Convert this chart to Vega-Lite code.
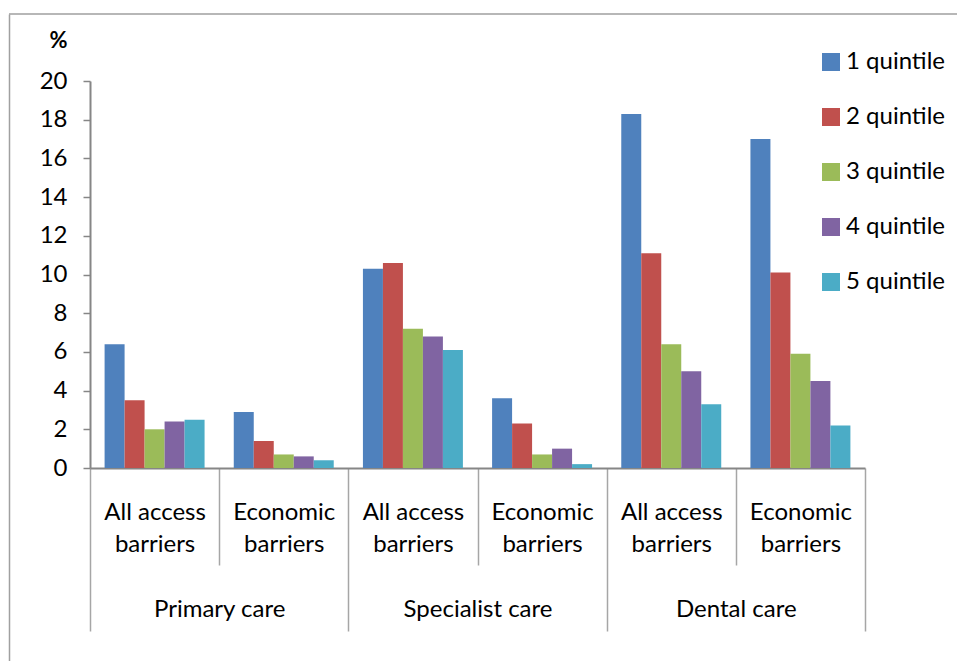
{
  "$schema": "https://vega.github.io/schema/vega-lite/v6.json",
  "width": 948,
  "height": 647,
  "autosize": {"type": "none"},
  "padding": {"left": 9, "top": 14, "right": 0, "bottom": 0},
  "background": "white",
  "config": {
    "font": "Lato",
    "view": {"stroke": "#a0a0a0", "strokeWidth": 1.5, "strokeDash": [948, 4000]},
    "axis": {"labelColor": "#000000", "labelFontSize": 24, "titleColor": "#000000"},
    "legend": {"labelColor": "#000000", "labelFontSize": 24}
  },
  "data": {
    "values": [
      {"care": "Primary care", "barrier": "All access barriers", "group": "Primary care / All access barriers", "quintile": "1 quintile", "value": 6.4},
      {"care": "Primary care", "barrier": "All access barriers", "group": "Primary care / All access barriers", "quintile": "2 quintile", "value": 3.5},
      {"care": "Primary care", "barrier": "All access barriers", "group": "Primary care / All access barriers", "quintile": "3 quintile", "value": 2.0},
      {"care": "Primary care", "barrier": "All access barriers", "group": "Primary care / All access barriers", "quintile": "4 quintile", "value": 2.4},
      {"care": "Primary care", "barrier": "All access barriers", "group": "Primary care / All access barriers", "quintile": "5 quintile", "value": 2.5},
      {"care": "Primary care", "barrier": "Economic barriers", "group": "Primary care / Economic barriers", "quintile": "1 quintile", "value": 2.9},
      {"care": "Primary care", "barrier": "Economic barriers", "group": "Primary care / Economic barriers", "quintile": "2 quintile", "value": 1.4},
      {"care": "Primary care", "barrier": "Economic barriers", "group": "Primary care / Economic barriers", "quintile": "3 quintile", "value": 0.7},
      {"care": "Primary care", "barrier": "Economic barriers", "group": "Primary care / Economic barriers", "quintile": "4 quintile", "value": 0.6},
      {"care": "Primary care", "barrier": "Economic barriers", "group": "Primary care / Economic barriers", "quintile": "5 quintile", "value": 0.4},
      {"care": "Specialist care", "barrier": "All access barriers", "group": "Specialist care / All access barriers", "quintile": "1 quintile", "value": 10.3},
      {"care": "Specialist care", "barrier": "All access barriers", "group": "Specialist care / All access barriers", "quintile": "2 quintile", "value": 10.6},
      {"care": "Specialist care", "barrier": "All access barriers", "group": "Specialist care / All access barriers", "quintile": "3 quintile", "value": 7.2},
      {"care": "Specialist care", "barrier": "All access barriers", "group": "Specialist care / All access barriers", "quintile": "4 quintile", "value": 6.8},
      {"care": "Specialist care", "barrier": "All access barriers", "group": "Specialist care / All access barriers", "quintile": "5 quintile", "value": 6.1},
      {"care": "Specialist care", "barrier": "Economic barriers", "group": "Specialist care / Economic barriers", "quintile": "1 quintile", "value": 3.6},
      {"care": "Specialist care", "barrier": "Economic barriers", "group": "Specialist care / Economic barriers", "quintile": "2 quintile", "value": 2.3},
      {"care": "Specialist care", "barrier": "Economic barriers", "group": "Specialist care / Economic barriers", "quintile": "3 quintile", "value": 0.7},
      {"care": "Specialist care", "barrier": "Economic barriers", "group": "Specialist care / Economic barriers", "quintile": "4 quintile", "value": 1.0},
      {"care": "Specialist care", "barrier": "Economic barriers", "group": "Specialist care / Economic barriers", "quintile": "5 quintile", "value": 0.2},
      {"care": "Dental care", "barrier": "All access barriers", "group": "Dental care / All access barriers", "quintile": "1 quintile", "value": 18.3},
      {"care": "Dental care", "barrier": "All access barriers", "group": "Dental care / All access barriers", "quintile": "2 quintile", "value": 11.1},
      {"care": "Dental care", "barrier": "All access barriers", "group": "Dental care / All access barriers", "quintile": "3 quintile", "value": 6.4},
      {"care": "Dental care", "barrier": "All access barriers", "group": "Dental care / All access barriers", "quintile": "4 quintile", "value": 5.0},
      {"care": "Dental care", "barrier": "All access barriers", "group": "Dental care / All access barriers", "quintile": "5 quintile", "value": 3.3},
      {"care": "Dental care", "barrier": "Economic barriers", "group": "Dental care / Economic barriers", "quintile": "1 quintile", "value": 17.0},
      {"care": "Dental care", "barrier": "Economic barriers", "group": "Dental care / Economic barriers", "quintile": "2 quintile", "value": 10.1},
      {"care": "Dental care", "barrier": "Economic barriers", "group": "Dental care / Economic barriers", "quintile": "3 quintile", "value": 5.9},
      {"care": "Dental care", "barrier": "Economic barriers", "group": "Dental care / Economic barriers", "quintile": "4 quintile", "value": 4.5},
      {"care": "Dental care", "barrier": "Economic barriers", "group": "Dental care / Economic barriers", "quintile": "5 quintile", "value": 2.2}
    ]
  },
  "layer": [
    {
      "mark": {"type": "bar"},
      "encoding": {
        "x": {
          "field": "group",
          "type": "nominal",
          "sort": null,
          "scale": {"range": [81, 856], "paddingInner": 0, "paddingOuter": 0},
          "axis": {
            "orient": "bottom",
            "offset": -193,
            "title": null,
            "labelAngle": 0,
            "tickBand": "extent",
            "domainColor": "#868686",
            "domainWidth": 2,
            "tickColor": "#a6a6a6",
            "tickWidth": 1.5,
            "tickSize": {"condition": {"test": "datum.extra || test(/Economic/, datum.value + '')", "value": 163}, "value": 97},
            "labelPadding": {"condition": {"test": "datum.extra || test(/Economic/, datum.value + '')", "value": -118.4}, "value": -52.4},
            "labelBaseline": "middle",
            "labelLineHeight": 31.5,
            "labelExpr": "datum.extra || datum.value == null ? '' : (test(/Economic/, datum.value) ? ['Economic', 'barriers'] : ['All access', 'barriers'])"
          }
        },
        "xOffset": {
          "field": "quintile",
          "type": "nominal",
          "scale": {"paddingInner": 0, "paddingOuter": 0.73}
        },
        "y": {
          "field": "value",
          "type": "quantitative",
          "scale": {"domain": [0, 20], "range": [454, 67], "nice": false},
          "axis": {
            "orient": "left",
            "offset": -81,
            "values": [0, 2, 4, 6, 8, 10, 12, 14, 16, 18, 20],
            "grid": false,
            "domainColor": "#868686",
            "domainWidth": 2,
            "tickColor": "#868686",
            "tickWidth": 1.5,
            "tickSize": 7,
            "labelPadding": 16,
            "title": "%",
            "titleAngle": 0,
            "titleX": -32,
            "titleY": 26,
            "titleAlign": "center",
            "titleBaseline": "middle",
            "titleFontSize": 22,
            "titleFontWeight": "bold"
          }
        },
        "color": {
          "field": "quintile",
          "type": "nominal",
          "scale": {
            "domain": ["1 quintile", "2 quintile", "3 quintile", "4 quintile", "5 quintile"],
            "range": ["#4f81bd", "#c0504d", "#9bbb59", "#8064a2", "#4bacc6"]
          },
          "legend": {
            "orient": "none",
            "legendX": 810,
            "legendY": 36,
            "title": null,
            "padding": 0,
            "symbolType": "square",
            "symbolSize": 324,
            "symbolStrokeWidth": 0,
            "labelOffset": 3,
            "rowPadding": 31
          }
        }
      }
    },
    {
      "mark": {"type": "point", "opacity": 0},
      "encoding": {
        "x": {
          "field": "care",
          "type": "nominal",
          "sort": null,
          "scale": {"type": "point", "range": [81, 856], "padding": 0.5},
          "axis": {
            "orient": "bottom",
            "offset": -193,
            "title": null,
            "labelAngle": 0,
            "domain": false,
            "ticks": false,
            "labelPadding": 141,
            "labelBaseline": "middle"
          }
        },
        "y": {
          "field": "value",
          "type": "quantitative",
          "scale": {"range": [647, 0]},
          "axis": {
            "orient": "left",
            "offset": 0,
            "title": null,
            "labels": false,
            "ticks": false,
            "grid": false,
            "domainColor": "#a0a0a0",
            "domainWidth": 1.5
          }
        }
      }
    }
  ],
  "resolve": {
    "scale": {"x": "independent", "y": "independent"},
    "axis": {"x": "independent", "y": "independent"}
  }
}
